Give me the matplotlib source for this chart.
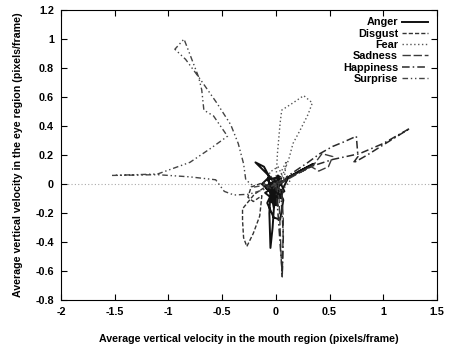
import matplotlib
matplotlib.use("Agg")
import matplotlib.pyplot as plt

plt.rcParams['font.family'] = ['Liberation Sans', 'DejaVu Sans']

# ---- data ----
anger_x = [0.0, -0.03, -0.08, -0.02, 0.04, 0.07, 0.02, -0.04, -0.19, -0.11, -0.06, -0.13, -0.05,
           -0.06, -0.05, -0.03, -0.01, 0.05, 0.02, -0.07, -0.02, 0.06, 0.12, 0.2, 0.35, 0.22, 0.08,
           -0.02, -0.09, 0.03, 0.08, -0.04, 0.05, -0.08, 0.04, -0.05, 0.02, -0.03, 0.07, -0.1,
           0.0, 0.03, -0.06, 0.05, -0.02, -0.07, 0.02, -0.04, 0.06, -0.09, 0.01]
anger_y = [0.0, -0.05, -0.13, -0.23, -0.245, -0.11, -0.02, 0.04, 0.15, 0.12, 0.05, 0.0, -0.05,
           -0.2, -0.44, -0.3, -0.08, 0.04, 0.06, -0.03, -0.1, -0.04, 0.05, 0.08, 0.14, 0.09, 0.03,
           -0.06, -0.01, 0.03, -0.05, -0.09, -0.08, 0.03, 0.05, -0.12, -0.15, 0.02, 0.02, -0.06,
           -0.12, 0.04, -0.02, -0.04, -0.16, 0.05, 0.0, -0.08, -0.1, -0.03, -0.05]

disgust_x = [0.0, -0.1, -0.2, -0.31, -0.31, -0.30, -0.27, -0.21, -0.15, -0.13, -0.21, -0.26,
             -0.23, -0.12, -0.05, 0.02, -0.03]
disgust_y = [0.0, -0.02, -0.07, -0.17, -0.25, -0.37, -0.43, -0.34, -0.22, -0.08, -0.12, -0.09,
             -0.02, 0.01, -0.03, 0.02, -0.04]

fear_x = [0.0, 0.015, 0.04, 0.055, 0.16, 0.26, 0.34, 0.30, 0.225, 0.16, 0.12, 0.07, 0.03, 0.06,
          0.1, 0.08, 0.0, -0.06, 0.02, 0.08, 0.13, 0.04, -0.02]
fear_y = [0.0, 0.21, 0.42, 0.51, 0.56, 0.61, 0.56, 0.48, 0.37, 0.28, 0.17, 0.075, 0.0, 0.1,
          0.16, 0.05, -0.02, 0.08, 0.12, 0.03, 0.02, -0.06, 0.01]

sadness_x = [0.0, 0.03, 0.04, 0.05, 0.06, 0.065, 0.07, 0.06, 0.02, 0.1, 0.25, 0.35, 0.43, 0.53,
             0.49, 0.40, 0.33, 0.2, 0.08, 0.0]
sadness_y = [0.0, -0.1, -0.3, -0.5, -0.64, -0.45, -0.25, -0.1, 0.0, 0.04, 0.09, 0.13, 0.21, 0.19,
             0.12, 0.09, 0.12, 0.07, 0.02, -0.01]

happiness_x = [0.0, 0.13, 0.32, 0.53, 0.78, 1.0, 1.25, 1.0, 0.85, 0.72, 0.765, 0.75, 0.63, 0.53,
               0.41, 0.3, 0.1, 0.05, 0.07, 0.06, 0.02, 0.0]
happiness_y = [0.0, 0.05, 0.12, 0.17, 0.21, 0.28, 0.385, 0.27, 0.2, 0.145, 0.19, 0.33, 0.29, 0.26,
               0.21, 0.15, 0.05, -0.1, -0.35, -0.62, -0.2, -0.02]

surprise_x = [0.0, -0.12, -0.25, -0.39, -0.48, -0.53, -0.56, -0.8, -1.1, -1.52, -1.3, -1.1, -0.8,
              -0.6, -0.45, -0.58, -0.67, -0.69, -0.72, -0.855, -0.94, -0.84, -0.72, -0.55, -0.42,
              -0.35, -0.30, -0.28, -0.2, -0.05]
surprise_y = [0.0, -0.04, -0.07, -0.075, -0.05, 0.0, 0.03, 0.05, 0.065, 0.06, 0.065, 0.07, 0.15,
              0.25, 0.33, 0.47, 0.51, 0.65, 0.74, 1.0, 0.93, 0.86, 0.74, 0.56, 0.41, 0.28, 0.14,
              0.03, -0.02, 0.0]

labels = ["Anger", "Disgust", "Fear", "Sadness", "Happiness", "Surprise"]
xticks = [-2, -1.5, -1, -0.5, 0, 0.5, 1, 1.5]
xticklabels = ["-2", "-1.5", "-1", "-0.5", "0", "0.5", "1", "1.5"]
yticks = [-0.8, -0.6, -0.4, -0.2, 0, 0.2, 0.4, 0.6, 0.8, 1, 1.2]
yticklabels = ["-0.8", "-0.6", "-0.4", "-0.2", "0", "0.2", "0.4", "0.6", "0.8", "1", "1.2"]

series = [(anger_x, anger_y), (disgust_x, disgust_y), (fear_x, fear_y),
          (sadness_x, sadness_y), (happiness_x, happiness_y), (surprise_x, surprise_y)]
styles = ['-', (0, (3, 1.5)), (0, (1, 1.8)), (0, (6, 2)), (0, (5, 2, 1, 2)), (0, (4, 2, 1, 2, 1, 2))]
colors = ['#111111', '#333333', '#555555', '#3a3a3a', '#2a2a2a', '#444444']
widths = [1.4, 1.0, 1.0, 1.0, 1.1, 1.0]

fig = plt.figure(figsize=(4.49, 3.47), dpi=100)
ax = fig.add_axes([0.136, 0.135, 0.837, 0.836])

ax.axhline(0, color='#aaaaaa', lw=0.8, ls=(0, (1, 2)), zorder=1)

for (xs, ys), lab, st, c, w in zip(series, labels, styles, colors, widths):
    ax.plot(xs, ys, ls=st, color=c, lw=w, label=lab, zorder=2)

ax.set_xlim(-2, 1.5)
ax.set_ylim(-0.8, 1.2)
ax.set_xticks(xticks)
ax.set_xticklabels(xticklabels)
ax.set_yticks(yticks)
ax.set_yticklabels(yticklabels)
ax.tick_params(direction='in', top=True, right=True, length=4, width=0.8,
               labelsize=7.8, pad=5)
for lbl in ax.get_xticklabels() + ax.get_yticklabels():
    lbl.set_fontweight('bold')
for s in ax.spines.values():
    s.set_linewidth(0.8)

ax.set_xlabel("Average vertical velocity in the mouth region (pixels/frame)",
              fontsize=7.7, fontweight='bold', labelpad=12)
ax.set_ylabel("Average vertical velocity in the eye region (pixels/frame)",
              fontsize=7.7, fontweight='bold', labelpad=9)

leg = ax.legend(loc='upper right', bbox_to_anchor=(0.976, 0.975), markerfirst=False,
                frameon=False, fontsize=7.8, labelspacing=0.12, handlelength=2.4,
                handletextpad=0.35, borderpad=0, borderaxespad=0)
for t in leg.get_texts():
    t.set_fontweight('bold')

fig.savefig("out.png", dpi=100)
